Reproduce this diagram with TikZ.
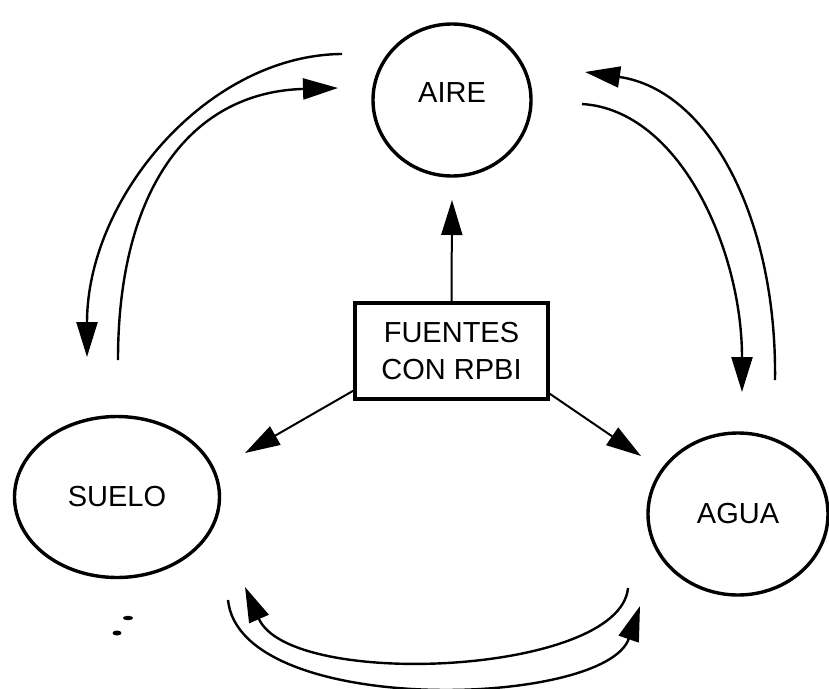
\documentclass[tikz,border=0pt]{standalone}
\usepackage{fontspec}
\setmainfont{Liberation Sans}
\usetikzlibrary{shapes.geometric,arrows.meta}

\begin{document}
\begin{tikzpicture}[x=1pt, y=-1pt,
    medio/.style={draw, ellipse, line width=3.4pt, inner sep=0pt, font=\fontsize{29}{35}\selectfont},
    fuente/.style={draw, rectangle, line width=3.4pt, align=center, inner sep=0pt, font=\fontsize{29}{37}\selectfont},
    flecha/.style={line width=2.4pt, -{Triangle[length=35pt, width=21pt]}}]
    \useasboundingbox (0,0) rectangle (829,688);
    \node[medio, minimum width=158pt, minimum height=152pt, text depth=14pt] (aire) at (452,100) {AIRE};
    \node[medio, minimum width=205pt, minimum height=161pt] (suelo) at (117,497) {SUELO};
    \node[medio, minimum width=180pt, minimum height=162pt] (agua) at (738,514) {AGUA};
    \node[fuente, minimum width=193pt, minimum height=96pt] (fuentes) at (451.5,351) {FUENTES\\CON RPBI};
    \coordinate (paire) at (452,200);
    \coordinate (psuelo) at (245,453);
    \coordinate (pagua) at (641,456);
    \coordinate (as1) at (342,54);
    \coordinate (as2) at (87,357);
    \coordinate (sa1) at (118,360);
    \coordinate (sa2) at (338,88);
    \coordinate (wa1) at (775,380);
    \coordinate (wa2) at (585,72);
    \coordinate (aw1) at (582,104);
    \coordinate (aw2) at (742,392);
    \coordinate (ws1) at (628,588);
    \coordinate (ws2) at (245,587);
    \coordinate (sw1) at (228,600);
    \coordinate (sw2) at (640,606);
    \draw[flecha, line width=2pt] (fuentes.north) -- (paire);
    \draw[flecha, line width=2pt] ([yshift=10pt]fuentes.south west) -- (psuelo);
    \draw[flecha, line width=2pt] ([yshift=7pt]fuentes.south east) -- (pagua);
    \draw[flecha] (as1) .. controls (207,55) and (87,198) .. (as2);
    \draw[flecha] (sa1) .. controls (118,190) and (190,92) .. (sa2);
    \draw[flecha] (wa1) .. controls (777,220) and (710,90) .. (wa2);
    \draw[flecha] (aw1) .. controls (680,110) and (742,250) .. (aw2);
    \draw[flecha] (ws1) .. controls (620,675) and (290,690) .. (ws2);
    \draw[flecha] (sw1) .. controls (240,718) and (605,708) .. (sw2);
    \fill (128,618) ellipse [x radius=5pt, y radius=2.2pt];
    \fill (117,633) ellipse [x radius=4.5pt, y radius=2.5pt];
\end{tikzpicture}
\end{document}
